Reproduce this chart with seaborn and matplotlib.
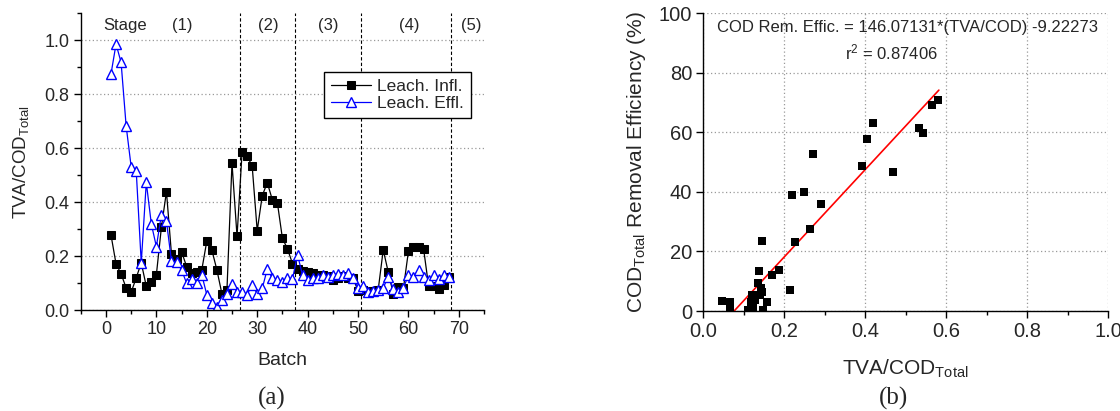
import matplotlib
matplotlib.use("Agg")
import matplotlib.pyplot as plt
import seaborn as sns
from matplotlib.ticker import MultipleLocator, FormatStrFormatter

# ---------------- data: panel (a) ----------------
batch = list(range(1, 69))
leach_infl = [0.278, 0.171, 0.134, 0.082, 0.066, 0.119, 0.175, 0.088, 0.103, 0.131,
              0.307, 0.439, 0.206, 0.190, 0.216, 0.161, 0.136, 0.140, 0.148, 0.255,
              0.223, 0.149, 0.060, 0.075, 0.545, 0.273, 0.585, 0.570, 0.535, 0.294,
              0.424, 0.472, 0.409, 0.398, 0.266, 0.227, 0.172, 0.151, 0.144, 0.140,
              0.136, 0.130, 0.130, 0.125, 0.110, 0.120, 0.125, 0.120, 0.118, 0.072,
              0.075, 0.070, 0.072, 0.075, 0.223, 0.140, 0.060, 0.085, 0.080, 0.218,
              0.233, 0.235, 0.227, 0.089, 0.090, 0.078, 0.091, 0.124]
leach_effl = [0.875, 0.986, 0.918, 0.683, 0.531, 0.517, 0.175, 0.473, 0.319, 0.235,
              0.354, 0.329, 0.181, 0.177, 0.149, 0.099, 0.114, 0.099, 0.131, 0.057,
              0.025, 0.013, 0.038, 0.060, 0.097, 0.066, 0.066, 0.057, 0.094, 0.060,
              0.080, 0.152, 0.118, 0.110, 0.104, 0.118, 0.115, 0.205, 0.128, 0.113,
              0.120, 0.120, 0.128, 0.122, 0.130, 0.135, 0.129, 0.138, 0.118, 0.082,
              0.090, 0.068, 0.072, 0.076, 0.082, 0.124, 0.078, 0.066, 0.080, 0.131,
              0.124, 0.149, 0.122, 0.110, 0.131, 0.115, 0.131, 0.124]
stage_bounds = [26.5, 37.5, 50.5, 68.5]
stage_texts = ["Stage", "(1)", "(2)", "(3)", "(4)", "(5)"]
stage_text_x = [3.8, 15.2, 32.3, 44.0, 60.1, 72.5]

# ---------------- data: panel (b) ----------------
tva_cod = [0.047, 0.066, 0.067, 0.111, 0.117, 0.119, 0.123, 0.128, 0.132, 0.134,
           0.138, 0.140, 0.142, 0.144, 0.144, 0.148, 0.158, 0.170, 0.187, 0.213,
           0.218, 0.226, 0.249, 0.264, 0.272, 0.291, 0.393, 0.405, 0.420, 0.469,
           0.532, 0.542, 0.565, 0.581]
cod_removal = [3.4, 2.9, 0.3, 0.3, 3.1, 5.4, 0.9, 3.7, 5.4, 9.3,
               13.4, 5.4, 7.6, 6.5, 23.5, 0.3, 2.9, 12.1, 13.8, 6.9,
               39.0, 23.3, 39.9, 27.5, 52.7, 35.8, 48.8, 57.9, 63.2, 46.6,
               61.6, 59.8, 69.1, 70.9]
fit_x = [0.076, 0.582]
fit_y = [0.0, 74.2]
eq_text = "COD Rem. Effic. = 146.07131*(TVA/COD) -9.22273"
r2_text = "r$^2$ = 0.87406"

# ---------------- style ----------------
sns.set_style("white")
plt.rcParams["font.family"] = ["Liberation Sans", "DejaVu Sans"]
plt.rcParams["mathtext.default"] = "regular"
plt.rcParams["axes.linewidth"] = 1.0

fig = plt.figure(figsize=(11.2, 4.11), dpi=100)
ax1 = fig.add_axes([0.0721, 0.2457, 0.3601, 0.7219])
ax2 = fig.add_axes([0.6280, 0.2433, 0.3613, 0.7243])

grid_kw = dict(color="#9a9a9a", linestyle=(0, (1, 2)), linewidth=0.9)

# ---------------- panel (a) ----------------
sns.lineplot(x=batch, y=leach_infl, ax=ax1, color="black", linewidth=0.9,
             marker="s", markersize=5.5, markeredgecolor="black",
             label="Leach. Infl.")
sns.lineplot(x=batch, y=leach_effl, ax=ax1, color="#0000ff", linewidth=0.9,
             marker="^", markersize=7, markerfacecolor="white",
             markeredgecolor="#0000ff", markeredgewidth=1.0,
             label="Leach. Effl.")
for b in stage_bounds:
    ax1.axvline(b, color="black", linestyle=(0, (3, 2)), linewidth=0.8, zorder=1)
for t, xs in zip(stage_texts, stage_text_x):
    ax1.text(xs, 1.056, t, ha="center", va="center", fontsize=12)

ax1.set_xlim(-5, 75)
ax1.set_ylim(0, 1.1)
ax1.xaxis.set_major_locator(MultipleLocator(10))
ax1.xaxis.set_minor_locator(MultipleLocator(5))
ax1.yaxis.set_major_locator(MultipleLocator(0.2))
ax1.yaxis.set_minor_locator(MultipleLocator(0.1))
ax1.yaxis.set_major_formatter(FormatStrFormatter("%.1f"))
ax1.yaxis.grid(True, **grid_kw)
ax1.xaxis.grid(False)
ax1.set_axisbelow(True)
for s in ["top", "right"]:
    ax1.spines[s].set_visible(False)
for s in ["left", "bottom"]:
    ax1.spines[s].set_color("black")
ax1.tick_params(which="major", direction="out", length=5, width=1, labelsize=13,
                color="black", pad=3, bottom=True, left=True)
ax1.tick_params(which="minor", direction="out", length=3, width=1, color="black",
                bottom=True, left=True)
ax1.set_xlabel("Batch", fontsize=14, labelpad=10)
ax1.set_ylabel("TVA/COD$_{Total}$", fontsize=13.5, labelpad=10)
leg = ax1.legend(loc="upper left", bbox_to_anchor=(0.603, 0.802), fontsize=12.5,
                 frameon=True, fancybox=False, edgecolor="black", framealpha=1,
                 borderaxespad=0, handlelength=2.3, handletextpad=0.35,
                 borderpad=0.4, labelspacing=0.12, numpoints=1)
leg.get_frame().set_linewidth(1.0)

# ---------------- panel (b) ----------------
sns.scatterplot(x=tva_cod, y=cod_removal, ax=ax2, marker="s", s=34,
                color="black", edgecolor="black", linewidth=0, zorder=3)
sns.lineplot(x=fit_x, y=fit_y, ax=ax2, color="red", linewidth=1.2, zorder=2)
ax2.set_xlim(0, 1.0)
ax2.set_ylim(0, 100)
ax2.xaxis.set_major_locator(MultipleLocator(0.2))
ax2.xaxis.set_minor_locator(MultipleLocator(0.1))
ax2.yaxis.set_major_locator(MultipleLocator(20))
ax2.xaxis.set_major_formatter(FormatStrFormatter("%.1f"))
ax2.grid(True, **grid_kw)
ax2.set_axisbelow(True)
xg = ax2.get_xgridlines()
xg[0].set_visible(False)
xg[-1].set_visible(False)
yg = ax2.get_ygridlines()
yg[0].set_visible(False)
yg[-1].set_visible(False)
for s in ["top", "right"]:
    ax2.spines[s].set_visible(False)
for s in ["left", "bottom"]:
    ax2.spines[s].set_color("black")
ax2.tick_params(which="major", direction="out", length=5, width=1, labelsize=14.5,
                color="black", pad=3, bottom=True, left=True)
ax2.tick_params(which="minor", direction="out", length=3, width=1, color="black",
                bottom=True, left=True)
ax2.set_xlabel("TVA/COD$_{Total}$", fontsize=15, labelpad=12)
ax2.set_ylabel("COD$_{Total}$ Removal Efficiency (%)", fontsize=15, labelpad=8)
ax2.text((907 - 703.3) / 404.7, (311 - 27) / 297.7, eq_text, transform=ax2.transAxes,
         fontsize=12, ha="center", va="center")
ax2.text((891 - 703.3) / 404.7, (311 - 52) / 297.7, r2_text, transform=ax2.transAxes,
         fontsize=12, ha="center", va="center")

# ---------------- captions ----------------
fig.text(272 / 1120, 1 - 398 / 411, "(a)", fontsize=18, family="Liberation Serif",
         ha="center", va="center")
fig.text(893 / 1120, 1 - 398 / 411, "(b)", fontsize=18, family="Liberation Serif",
         ha="center", va="center")

fig.savefig("out.png", dpi=100)
